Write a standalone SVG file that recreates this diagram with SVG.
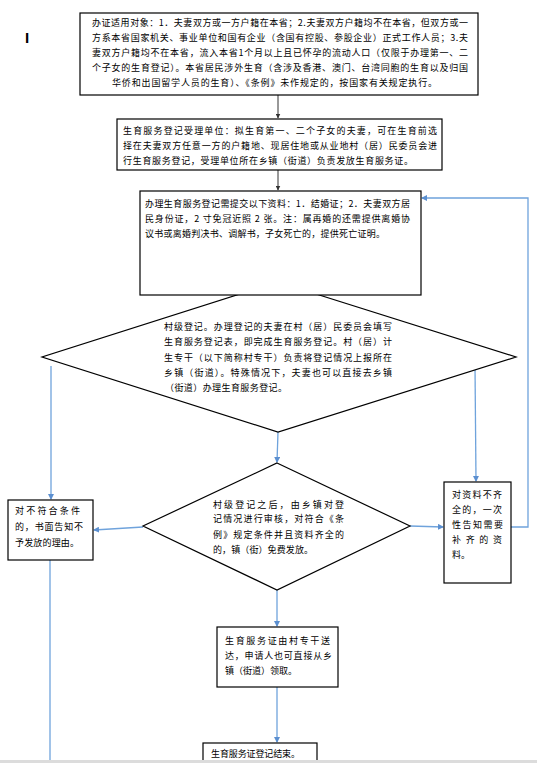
<svg xmlns="http://www.w3.org/2000/svg" width="537" height="763" viewBox="0 0 537 763">
<style>
.box{fill:#fff;stroke:#000;stroke-width:1.2}
.t{font-family:"Noto Sans CJK SC","Liberation Sans",sans-serif;font-size:9px;fill:#000}
.c{fill:none;stroke:#6fa3dc;stroke-width:1.3}
.k{fill:none;stroke:#333;stroke-width:1}
</style>
<defs>
<marker id="ab" markerWidth="6" markerHeight="6" refX="5" refY="3" orient="auto" markerUnits="userSpaceOnUse"><path d="M0,0 L6,3 L0,6 z" fill="#5b8fd0"/></marker>
<marker id="ak" markerWidth="5" markerHeight="5" refX="4.5" refY="2.5" orient="auto" markerUnits="userSpaceOnUse"><path d="M0,0 L5,2.5 L0,5 z" fill="#333"/></marker>
</defs>
<rect x="0" y="0" width="537" height="763" fill="#fff"/>
<text x="25" y="43" style="font-family:'Liberation Sans',sans-serif;font-size:15px;font-weight:bold">I</text>

<g id="connectors">
<line class="k" x1="278" y1="95" x2="278" y2="118" marker-end="url(#ak)"/>
<line class="k" x1="278" y1="170" x2="278" y2="190" marker-end="url(#ak)"/>
<line class="c" x1="278" y1="432" x2="277" y2="462" marker-end="url(#ab)"/>
<line class="c" x1="51" y1="366" x2="51" y2="499" marker-end="url(#ab)"/>
<line class="c" x1="475" y1="366" x2="476" y2="481" marker-end="url(#ab)"/>
<line class="c" x1="143" y1="527" x2="94" y2="530" marker-end="url(#ab)"/>
<line class="c" x1="410" y1="526" x2="443" y2="527" marker-end="url(#ab)"/>
<polyline class="c" points="511,527 528,527 528,198 422,198" marker-end="url(#ab)"/>
<line class="c" x1="277" y1="590" x2="277" y2="626" marker-end="url(#ab)"/>
<line class="c" x1="277" y1="687" x2="277" y2="742" marker-end="url(#ab)"/>
<line class="c" x1="50" y1="560" x2="50" y2="763"/>
</g>

<g id="n1">
<rect class="box" x="80" y="13" width="398" height="82"/>
<text class="t" x="92" y="26" textLength="376">办证适用对象：1．夫妻双方或一方户籍在本省；2.夫妻双方户籍均不在本省，但双方或一</text>
<text class="t" x="92" y="41" textLength="376">方系本省国家机关、事业单位和国有企业（含国有控股、参股企业）正式工作人员；3.夫</text>
<text class="t" x="92" y="56" textLength="376">妻双方户籍均不在本省，流入本省1个月以上且已怀孕的流动人口（仅限于办理第一、二</text>
<text class="t" x="92" y="71" textLength="376">个子女的生育登记）。本省居民涉外生育（含涉及香港、澳门、台湾同胞的生育以及归国</text>
<text class="t" x="112" y="86" textLength="325">华侨和出国留学人员的生育）、《条例》未作规定的，按国家有关规定执行。</text>
</g>

<g id="n2">
<rect class="box" x="117" y="119" width="325" height="51"/>
<text class="t" x="123" y="134" textLength="314">生育服务登记受理单位：拟生育第一、二个子女的夫妻，可在生育前选</text>
<text class="t" x="123" y="149" textLength="314">择在夫妻双方任意一方的户籍地、现居住地或从业地村（居）民委员会进</text>
<text class="t" x="123" y="164" textLength="290">行生育服务登记，受理单位所在乡镇（街道）负责发放生育服务证。</text>
</g>

<g id="n4">
<polygon class="box" points="278,282 516,357 278,432 42,357"/>
<text class="t" x="164" y="330" textLength="228">村级登记。办理登记的夫妻在村（居）民委员会填写</text>
<text class="t" x="164" y="345" textLength="228">生育服务登记表，即完成生育服务登记。村（居）计</text>
<text class="t" x="164" y="361" textLength="228">生专干（以下简称村专干）负责将登记情况上报所在</text>
<text class="t" x="164" y="376" textLength="228">乡镇（街道）。特殊情况下，夫妻也可以直接去乡镇</text>
<text class="t" x="165" y="391" textLength="122">（街道）办理生育服务登记。</text>
</g>

<g id="n3">
<rect class="box" x="140" y="191" width="281" height="104"/>
<text class="t" x="145" y="207" textLength="265">办理生育服务登记需提交以下资料：1．结婚证；2．夫妻双方居</text>
<text class="t" x="145" y="222" textLength="265">民身份证，2 寸免冠近照 2 张。注：属再婚的还需提供离婚协</text>
<text class="t" x="145" y="237" textLength="240">议书或离婚判决书、调解书，子女死亡的，提供死亡证明。</text>
</g>

<g id="n5">
<polygon class="box" points="277,463 410,526 277,590 143,526"/>
<text class="t" x="213" y="508" textLength="131">村级登记之后，由乡镇对登</text>
<text class="t" x="213" y="522" textLength="131">记情况进行审核，对符合《条</text>
<text class="t" x="213" y="538" textLength="131">例》规定条件并且资料齐全的</text>
<text class="t" x="213" y="553" textLength="100">的，镇（街）免费发放。</text>
</g>

<g id="n6">
<rect class="box" x="8" y="500" width="85" height="60"/>
<text class="t" x="15" y="514" textLength="65">对不符合条件</text>
<text class="t" x="15" y="530" textLength="68">的，书面告知不</text>
<text class="t" x="15" y="546" textLength="64">予发放的理由。</text>
</g>

<g id="n7">
<rect class="box" x="444" y="482" width="67" height="101"/>
<text class="t" x="452" y="498" textLength="50">对资料不齐</text>
<text class="t" x="452" y="513" textLength="50">全的，一次</text>
<text class="t" x="452" y="528" textLength="51">性告知需要</text>
<text class="t" x="452" y="543" textLength="50">补齐的资</text>
<text class="t" x="452" y="558">料。</text>
</g>

<g id="n8">
<rect class="box" x="217" y="627" width="121" height="60"/>
<text class="t" x="225" y="644" textLength="105">生育服务证由村专干送</text>
<text class="t" x="225" y="659" textLength="107">达，申请人也可直接从乡</text>
<text class="t" x="225" y="674" textLength="72">镇（街道）领取。</text>
</g>

<g id="n9">
<rect class="box" x="203" y="743" width="114" height="24"/>
<text class="t" x="211" y="757" textLength="89">生育服务证登记结束。</text>
</g>

<rect x="0" y="760" width="537" height="3" fill="#dcdcdc"/>
</svg>
